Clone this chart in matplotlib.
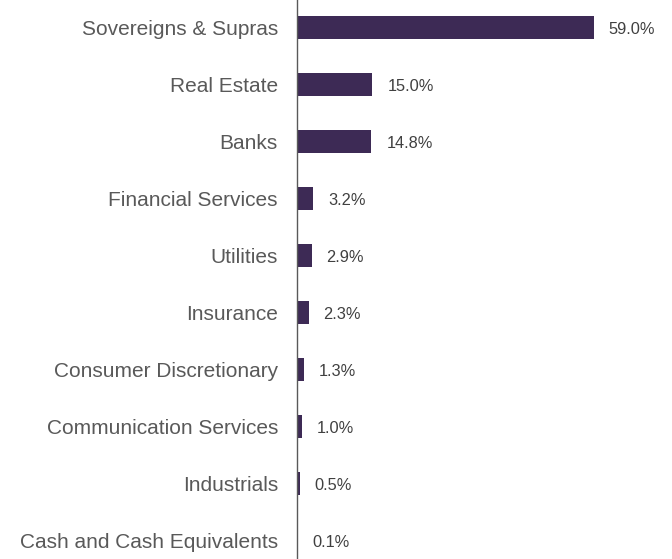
import matplotlib
matplotlib.use("Agg")
import matplotlib.pyplot as plt

# ==========================================================
# Data
# ==========================================================

sectors = [
    "Sovereigns & Supras",
    "Real Estate",
    "Banks",
    "Financial Services",
    "Utilities",
    "Insurance",
    "Consumer Discretionary",
    "Communication Services",
    "Industrials",
    "Cash and Cash Equivalents",
]

weights = [59.0, 15.0, 14.8, 3.2, 2.9, 2.3, 1.3, 1.0, 0.5, 0.1]

# ==========================================================
# Plot
# ==========================================================

plt.rcParams["font.family"] = ["Liberation Sans", "DejaVu Sans"]

fig = plt.figure(figsize=(6.72, 5.59), dpi=100)
ax = fig.add_axes([297 / 672, 0, 375 / 672, 1])

positions = list(range(len(sectors)))

ax.barh(positions, weights, height=0.40, color="#3d2a55")

for pos, value in zip(positions, weights):
    ax.annotate(
        f"{value:.1f}%",
        xy=(value, pos),
        xytext=(15, -2),
        textcoords="offset pixels",
        va="center",
        ha="left",
        fontsize=11.8,
        color="#404040",
    )

ax.set_xlim(0, 375 / 5.03)
ax.set_ylim(9.32, -0.48)

ax.set_yticks(positions)
ax.set_yticklabels(sectors, fontsize=15, color="#595959")
ax.tick_params(axis="y", length=0, pad=13.7)
ax.set_xticks([])

for side in ["top", "right", "bottom"]:
    ax.spines[side].set_visible(False)
ax.spines["left"].set_color("#595959")
ax.spines["left"].set_linewidth(1)

fig.savefig("out.png", dpi=100)
